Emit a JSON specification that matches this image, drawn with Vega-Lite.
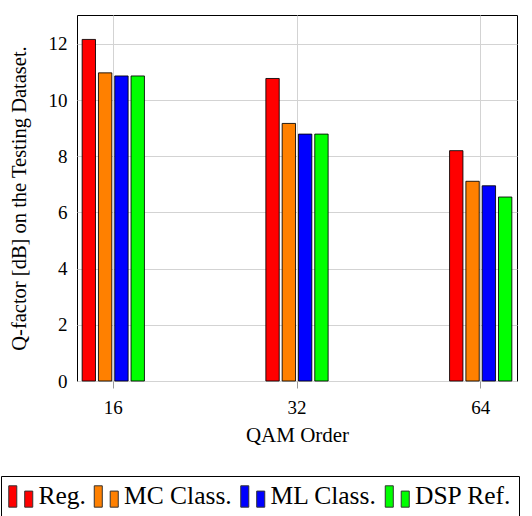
{
  "$schema": "https://vega.github.io/schema/vega-lite/v6.json",
  "width": 440,
  "height": 366,
  "autosize": {"type": "none"},
  "padding": {"left": 77, "top": 15, "right": 15, "bottom": 135},
  "data": {
    "values": [
      {"qam": "16", "method": "Reg.", "q": 12.16},
      {"qam": "16", "method": "MC Class.", "q": 10.97},
      {"qam": "16", "method": "ML Class.", "q": 10.86},
      {"qam": "16", "method": "DSP Ref.", "q": 10.86},
      {"qam": "32", "method": "Reg.", "q": 10.77},
      {"qam": "32", "method": "MC Class.", "q": 9.17},
      {"qam": "32", "method": "ML Class.", "q": 8.79},
      {"qam": "32", "method": "DSP Ref.", "q": 8.79},
      {"qam": "64", "method": "Reg.", "q": 8.2},
      {"qam": "64", "method": "MC Class.", "q": 7.11},
      {"qam": "64", "method": "ML Class.", "q": 6.95},
      {"qam": "64", "method": "DSP Ref.", "q": 6.55}
    ]
  },
  "mark": {"type": "bar", "stroke": "#000", "strokeWidth": 1, "strokeOpacity": 0.85},
  "encoding": {
    "x": {
      "field": "qam", "type": "ordinal", "sort": ["16", "32", "64"],
      "scale": {"paddingInner": 0.661, "paddingOuter": 0.028},
      "axis": {
        "bandPosition": 0.5, "grid": true, "gridColor": "#d3d3d3", "gridWidth": 1,
        "domain": false, "tickColor": "#999", "tickSize": 7, "labelAngle": 0,
        "labelFontSize": 19, "labelColor": "#000", "labelPadding": 10,
        "title": "QAM Order", "titleFontSize": 21, "titleFontWeight": "normal",
        "titleColor": "#000", "titlePadding": 7
      }
    },
    "xOffset": {
      "field": "method", "type": "nominal",
      "sort": ["Reg.", "MC Class.", "ML Class.", "DSP Ref."],
      "scale": {"paddingInner": 0.18, "paddingOuter": 0}
    },
    "y": {
      "field": "q", "type": "quantitative",
      "scale": {"domain": [0, 13.03], "nice": false, "zero": true},
      "axis": {
        "values": [0, 2, 4, 6, 8, 10, 12], "grid": true, "gridColor": "#d3d3d3",
        "gridWidth": 1, "domain": false, "ticks": false, "labelFontSize": 19,
        "labelColor": "#000", "labelPadding": 10,
        "title": "Q-factor [dB] on the Testing Dataset.", "titleFontSize": 20.5,
        "titleFontWeight": "normal", "titleColor": "#000", "titlePadding": 19
      }
    },
    "color": {
      "field": "method", "type": "nominal",
      "scale": {
        "domain": ["Reg.", "MC Class.", "ML Class.", "DSP Ref."],
        "range": ["#ff0000", "#ff8000", "#0000ff", "#00ff00"]
      },
      "legend": {
        "orient": "none", "legendX": -76, "legendY": 461, "direction": "horizontal",
        "title": null, "strokeColor": "#000", "padding": 7,
        "symbolType": "M-1,-0.86H-0.33V0.92H-1Z M0.33,-0.42H1V0.92H0.33Z",
        "symbolSize": 576, "symbolStrokeColor": "#333", "symbolStrokeWidth": 1,
        "symbolOpacity": 1, "labelFontSize": 25.5, "labelColor": "#000",
        "labelOffset": 5, "columnPadding": 5.5, "labelLimit": 300
      }
    }
  },
  "config": {
    "font": "Liberation Serif",
    "view": {"stroke": "#000", "strokeWidth": 1}
  }
}
